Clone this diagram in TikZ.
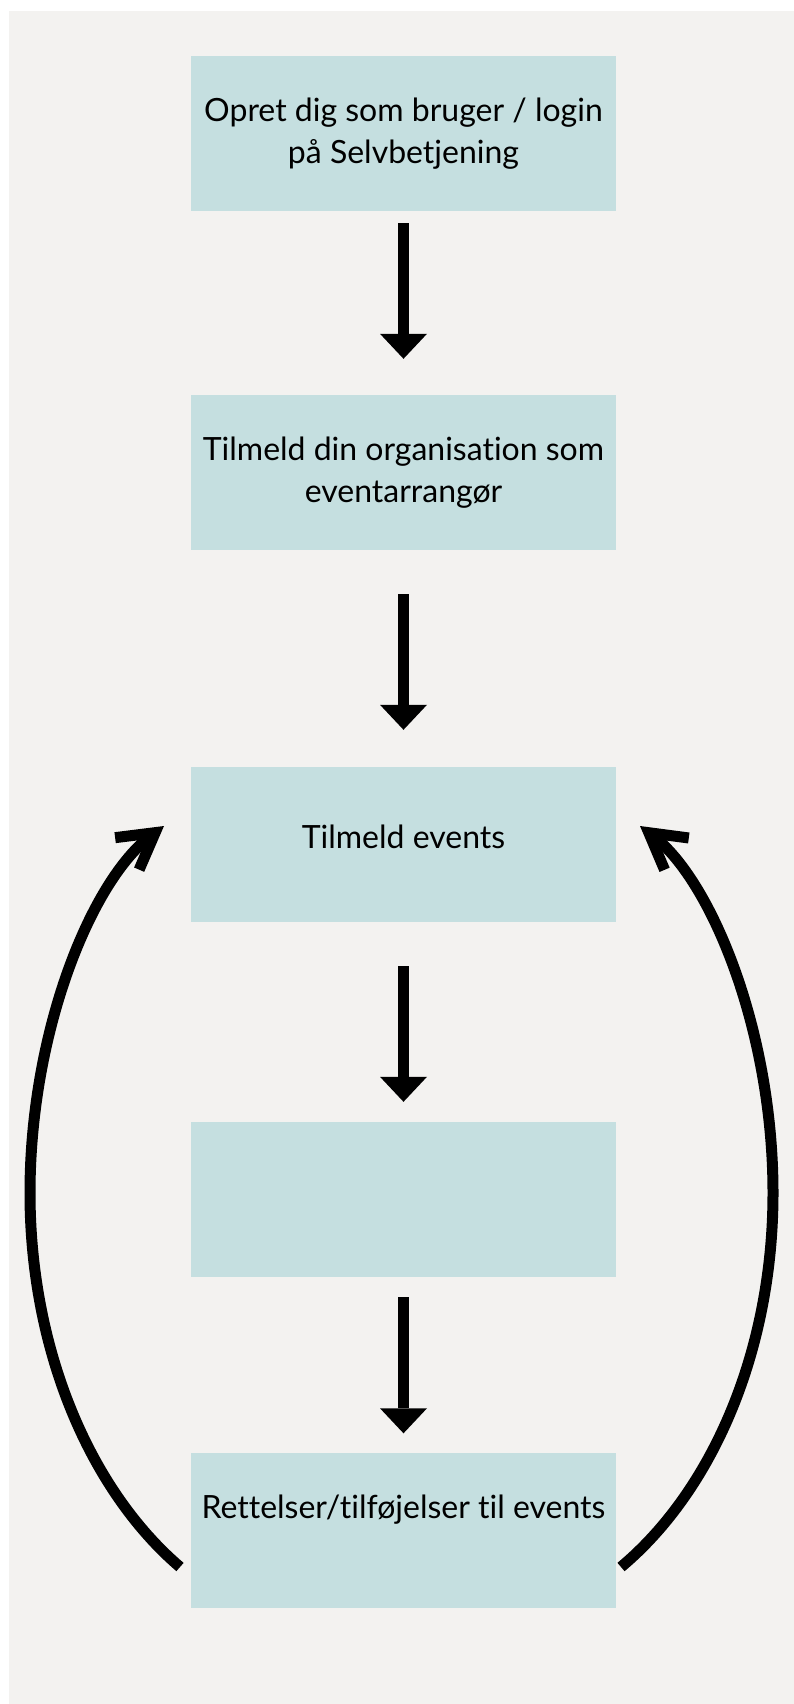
\documentclass[tikz,border=0pt]{standalone}
\usepackage{fontspec}
\setmainfont{Lato}[Ligatures={NoCommon},RawFeature={-liga;-dlig}]
\usetikzlibrary{arrows.meta}
\definecolor{bgc}{HTML}{F3F2F0}
\definecolor{boxc}{HTML}{C5DFE0}
\begin{document}
\begin{tikzpicture}[x=1pt,y=-1pt,
  box/.style={fill=boxc, minimum width=425pt, minimum height=155pt, inner sep=0pt, align=center, font=\fontsize{32}{42}\selectfont, text=black},
  flow/.style={line width=11pt, -{Triangle[length=25pt,width=47pt,line width=0pt]}},
  loopback/.style={line width=11pt, -{Straight Barb[length=35pt,width=40pt]}}]
\useasboundingbox (0,0) rectangle (794,1704);
\fill[bgc] (9,11) rectangle (794,1704);
\node[box] (b1) at (403.5,133.5) {Opret dig som bruger / login\\på Selvbetjening};
\node[box] (b2) at (403.5,472.5) {Tilmeld din organisation som\\eventarrangør};
\node[box, text depth=15pt] (b3) at (403.5,844.5) {Tilmeld events};
\node[box] (b4) at (403.5,1199.5) {};
\node[box, text depth=47pt] (b5) at (403.5,1530) {Rettelser/tilføjelser til events};
\draw[flow, shorten <=12pt, shorten >=36pt] (b1.south) -- (b2.north);
\draw[flow, shorten <=44pt, shorten >=37pt] (b2.south) -- (b3.north);
\draw[flow, shorten <=44pt, shorten >=20pt] (b3.south) -- (b4.north);
\draw[flow, shorten <=20pt, shorten >=19pt] (b4.south) -- (b5.north);
\coordinate (l0) at (180,1567);
\coordinate (l1) at (30,1193);
\coordinate (l2) at (164,826);
\coordinate (r0) at (621,1567);
\coordinate (r1) at (773,1193);
\coordinate (r2) at (640,826);
\draw[loopback] (l0) .. controls (90,1490) and (30,1350) .. (l1) .. controls (30,1030) and (92,880) .. (l2);
\draw[loopback] (r0) .. controls (713,1490) and (773,1350) .. (r1) .. controls (773,1030) and (711,880) .. (r2);
\end{tikzpicture}
\end{document}
